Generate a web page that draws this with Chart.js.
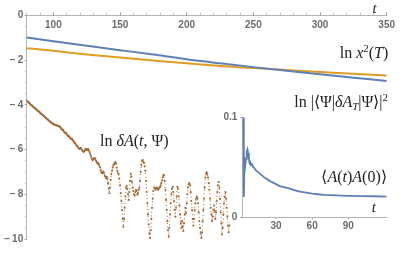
<!DOCTYPE html>
<html><head><meta charset="utf-8">
<script src="https://cdn.jsdelivr.net/npm/chart.js@4.4.1/dist/chart.umd.min.js"></script>
<style>
html,body{margin:0;padding:0;background:#fff;}
#wrap{position:relative;width:407px;height:253px;overflow:hidden;background:#fff;}
canvas{position:absolute;}
#main{left:0;top:0;}
#inset{left:200px;top:100px;}
.lab{position:absolute;font-family:'Liberation Serif','Times New Roman',serif;font-size:16px;line-height:16px;white-space:nowrap;color:#222;z-index:5;}
.lab i{font-style:italic;}
.sup{font-size:11px;line-height:0;vertical-align:6px;}
.sub{font-size:11px;line-height:0;vertical-align:-3px;}
</style></head>
<body><div id="wrap">
<canvas id="main" width="407" height="253"></canvas>
<canvas id="inset" width="207" height="153"></canvas>
<div class="lab" style="left:372.5px;top:1px;font-size:15px;line-height:15px;"><i>t</i></div>
<div class="lab" style="right:18.7px;top:45.4px;">ln <i>x</i><span class="sup">2</span>(<i>T</i>)</div>
<div class="lab" style="right:19px;top:94px;">ln |⟨Ψ|<i>δA</i><span class="sub"><i>T</i></span>|Ψ⟩|<span class="sup">2</span></div>
<div class="lab" style="left:100px;top:133px;">ln <i>δA</i>(<i>t</i>, Ψ)</div>
<div class="lab" style="right:20.3px;top:168.6px;">⟨<i>A</i>(<i>t</i>)<i>A</i>(0)⟩</div>
<div class="lab" style="left:371.7px;top:200.4px;font-size:15px;line-height:15px;"><i>t</i></div>
</div>
<script>
// ---- data ----
const mainT = [80, 100, 125, 150, 175, 200, 225, 250, 275, 300, 325, 350];
const lnX2  = [-0.98, -1.15, -1.35, -1.55, -1.75, -1.96, -2.14, -2.31, -2.47, -2.63, -2.78, -2.93];
const lnPsi = [-1.46, -1.58, -1.74, -1.88, -2.01, -2.14, -2.26, -2.35, -2.44, -2.53, -2.61, -2.69];

const brownT0 = 80;     // first sample time
const brownDt = 0.5;    // sample spacing
const brownV = [
  -3.80, -3.84, -3.86, -3.90, -3.92, -3.95, -3.99, -4.01, -4.03, -4.06,
  -4.10, -4.12, -4.14, -4.16, -4.20, -4.22, -4.25, -4.27, -4.30, -4.32,
  -4.34, -4.38, -4.41, -4.42, -4.45, -4.49, -4.50, -4.53, -4.57, -4.59,
  -4.62, -4.63, -4.67, -4.70, -4.72, -4.74, -4.77, -4.80, -4.81, -4.84,
  -4.86, -4.88, -4.89, -4.90, -4.90, -4.92, -4.93, -4.93, -4.95, -4.97,
  -4.98, -5.02, -5.07, -5.12, -5.10, -5.14, -5.20, -5.24, -5.27, -5.25,
  -5.30, -5.36, -5.40, -5.38, -5.43, -5.48, -5.50, -5.53, -5.52, -5.57,
  -5.62, -5.66, -5.70, -5.73, -5.78, -5.82, -5.86, -5.90, -5.94, -5.97,
  -5.95, -5.92, -5.96, -6.02, -6.06, -6.10, -6.08, -6.04, -5.98, -5.98,
  -6.02, -6.00, -5.98, -6.02, -6.10, -6.18, -6.25, -6.34, -6.42, -6.47,
  -6.44, -6.40, -6.38, -6.42, -6.50, -6.56, -6.62, -6.60, -6.64, -6.72,
  -6.80, -6.92, -7.02, -7.06, -7.00, -6.98, -7.06, -7.16, -7.22, -7.28,
  -7.22, -7.30, -7.50, -7.75, -7.95, -7.70, -7.35, -7.10, -6.95, -6.80,
  -6.70, -6.65, -6.60, -6.56, -6.62, -6.80, -6.95, -7.05, -7.10, -7.30,
  -7.60, -7.95, -8.30, -8.70, -9.10, -9.45, -9.10, -8.60, -8.10, -7.70,
  -7.62, -7.75, -8.00, -8.25, -7.90, -7.40, -7.08, -7.20, -7.45, -7.70,
  -7.85, -8.00, -8.05, -7.90, -7.80, -7.85, -8.02, -7.95, -7.80, -7.70,
  -7.40, -7.00, -6.70, -6.50, -6.47, -6.55, -6.60, -6.75, -6.95, -7.40,
  -7.90, -8.40, -8.90, -9.35, -9.75, -9.95, -9.60, -9.10, -8.60, -8.20,
  -7.85, -7.70, -7.72, -7.78, -7.75, -7.70, -7.72, -7.80, -7.76, -7.70,
  -7.68, -7.60, -7.50, -7.38, -7.25, -7.15, -7.14, -7.40, -7.80, -8.25,
  -8.70, -9.20, -9.60, -9.90, -9.50, -8.90, -8.40, -8.00, -7.75, -7.66,
  -7.90, -8.30, -8.70, -9.00, -8.60, -8.10, -7.66, -7.75, -8.10, -8.50,
  -8.90, -9.30, -9.50, -9.20, -9.45, -9.65, -9.30, -8.90, -8.60, -8.85,
  -8.40, -8.00, -7.70, -7.55, -7.50, -7.60, -7.90, -8.30, -8.70, -9.10,
  -9.40, -9.10, -8.70, -8.40, -8.20, -8.10, -8.17, -8.40, -8.80, -9.20,
  -9.50, -9.75, -9.95, -9.70, -9.20, -8.70, -8.20, -7.70, -7.25, -7.07,
  -7.02, -7.10, -7.25, -7.50, -7.80, -8.20, -8.60, -8.90, -9.20, -9.00,
  -8.70, -8.50, -8.75, -9.10, -8.80, -8.30, -7.90, -7.60, -7.45, -7.70,
  -8.20, -8.80, -9.30, -9.80, -9.50, -8.90, -8.40, -8.10, -7.90, -8.20,
  -8.60, -9.00, -9.40, -9.70, -9.40
];

const insetT = [2.5, 3.2, 3.8, 4.4, 5.0, 5.6, 6.2, 6.8, 7.4, 8.0, 8.6, 9.2, 10, 11, 12, 13, 14, 15, 17, 19, 21, 25, 30, 33, 40, 45, 50, 55, 60, 65, 70, 80, 90, 100, 110, 122];
const insetV = [0.100, 0.020, 0.060, 0.052, 0.058, 0.066, 0.068, 0.064, 0.058, 0.054, 0.055, 0.052, 0.053, 0.050, 0.049, 0.047, 0.046, 0.045, 0.043, 0.041, 0.039, 0.036, 0.033, 0.031, 0.029, 0.027, 0.0255, 0.0245, 0.0235, 0.0228, 0.0222, 0.0216, 0.0212, 0.0210, 0.0208, 0.0205];
const insetXTicks = [30, 60, 90];
const insetYTicks = [0, 0.1];

// ---- styles ----
const blue = '#5e81b5', orange = '#e19c24', brown = '#a26a34';
const axisGray = '#b4b4b4', tickGray = '#6b6b6b';
const tickFont = {family: "'Liberation Sans', Arial, sans-serif", size: 10, weight: 'bold'};

const brownData = brownV.map((v, i) => ({x: brownT0 + i * brownDt, y: v}));

new Chart(document.getElementById('main'), {
  type: 'scatter',
  data: {datasets: [
    {data: brownData, showLine: true, borderColor: brown, borderWidth: 1, borderDash: [1, 2.6],
     pointRadius: 1.05, pointBackgroundColor: brown, pointBorderWidth: 0, pointHoverRadius: 0},
    {data: mainT.map((t, i) => ({x: t, y: lnX2[i]})), showLine: true, borderColor: blue, borderWidth: 2,
     pointRadius: 0, cubicInterpolationMode: 'monotone'},
    {data: mainT.map((t, i) => ({x: t, y: lnPsi[i]})), showLine: true, borderColor: orange, borderWidth: 2,
     pointRadius: 0, cubicInterpolationMode: 'monotone'}
  ]},
  options: {
    responsive: false, animation: false, devicePixelRatio: 1,
    layout: {padding: {left: 0, top: 0, right: 20.3, bottom: 14}},
    plugins: {legend: {display: false}, tooltip: {enabled: false}},
    events: [],
    scales: {
      x: {type: 'linear', position: 'top', min: 80, max: 350,
        afterFit: s => { s.height = 15.5; },
        grid: {drawOnChartArea: false, drawTicks: true, tickLength: 3,
               tickColor: c => (c.tick && c.tick.value % 50 === 0) ? '#999' : '#c8c8c8'},
        border: {display: true, color: axisGray, width: 1},
        ticks: {stepSize: 10, autoSkip: false, maxRotation: 0, mirror: true, padding: 3.5, color: tickGray, font: tickFont,
                callback: v => v % 50 === 0 ? String(v) : ''}
      },
      y: {position: 'left', min: -10, max: 0,
        afterFit: s => { s.width = 26.7; },
        grid: {drawOnChartArea: false, drawTicks: true, tickLength: 2,
               tickColor: c => (c.tick && c.tick.value % 2 === 0) ? '#999' : '#c8c8c8'},
        border: {display: true, color: axisGray, width: 1},
        ticks: {stepSize: 0.5, autoSkip: false, padding: 1.5, color: tickGray, font: tickFont,
                callback: v => v % 2 === 0 ? (v === 0 ? '0' : '\u2212\u2009' + Math.abs(v)) : ''}
      }
    }
  }
});

new Chart(document.getElementById('inset'), {
  type: 'scatter',
  data: {datasets: [
    {data: insetT.map((t, i) => ({x: t, y: insetV[i]})), showLine: true, borderColor: blue, borderWidth: 1.8,
     pointRadius: 0, tension: 0}
  ]},
  options: {
    responsive: false, animation: false, devicePixelRatio: 1,
    layout: {padding: {left: 0, top: 17.3, right: 20.3, bottom: 0}},
    plugins: {legend: {display: false}, tooltip: {enabled: false}},
    events: [],
    scales: {
      x: {type: 'linear', position: 'bottom', min: 2, max: 122,
        afterFit: s => { s.height = 36; },
        afterBuildTicks: s => { s.ticks = insetXTicks.map(v => ({value: v})); },
        grid: {drawOnChartArea: false, drawTicks: true, tickLength: 2, tickColor: '#999'},
        border: {display: true, color: axisGray, width: 1},
        ticks: {autoSkip: false, maxRotation: 0, padding: 1, color: tickGray, font: tickFont}
      },
      y: {position: 'left', min: 0, max: 0.1,
        afterFit: s => { s.width = 42.4; },
        afterBuildTicks: s => { s.ticks = insetYTicks.map(v => ({value: v})); },
        grid: {drawOnChartArea: false, drawTicks: true, tickLength: 2, tickColor: '#999'},
        border: {display: true, color: axisGray, width: 1},
        ticks: {autoSkip: false, padding: 3, color: tickGray, font: tickFont,
                callback: v => v === 0 ? '0' : String(v)}
      }
    }
  }
});
</script>
</body></html>
